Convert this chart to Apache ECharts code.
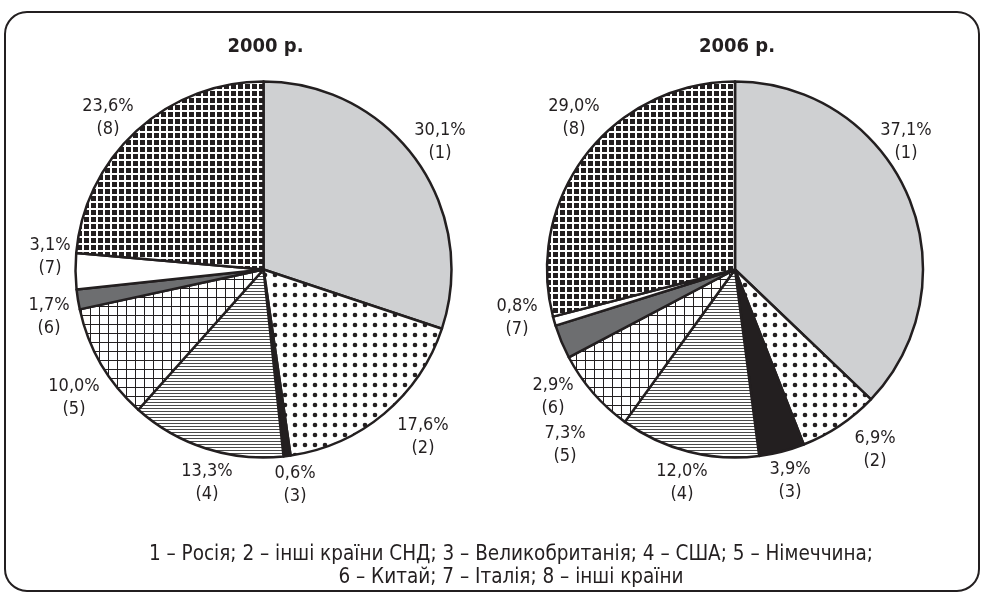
<!DOCTYPE html>
<html>
<head>
<meta charset="utf-8">
<script src="https://cdn.jsdelivr.net/npm/echarts@6/dist/echarts.min.js"></script>
<style>
  html, body { margin: 0; padding: 0; background: #fff; }
  #chart { width: 985px; height: 594px; }
</style>
</head>
<body>
<div id="chart"></div>
<script>
// Countries in slice order (clockwise from 12 o'clock)
const countries = ['Росія', 'інші країни СНД', 'Великобританія', 'США', 'Німеччина', 'Китай', 'Італія', 'інші країни'];
const years = ['2000 р.', '2006 р.'];
// Shares, %
const share2000 = [30.1, 17.6, 0.6, 13.3, 10.0, 1.7, 3.1, 23.6];
const share2006 = [37.1, 6.9, 3.9, 12.0, 7.3, 2.9, 0.8, 29.0];

// ---- layout ----
const INK = '#231f20';
const FONT = '"DejaVu Sans Condensed", "DejaVu Sans", sans-serif';
const PIE_R = 188;
const pieCenters = [[263.5, 269.5], [735, 269.5]];
// label block centre, as an offset [dx, dy] from its pie's centre
const labelOffsets = [
  [[176.5, -127.5], [159.5, 167], [31.5, 215.5], [-56.5, 213.5], [-189.5, 128.5], [-214.5, 47], [-213.5, -12.5], [-155.5, -151.5]],
  [[171, -127.5], [140, 180.5], [55, 211.5], [-53, 213.5], [-170, 175.5], [-182, 127.5], [-218, 48.5], [-161, -151.5]]
];

// ---- fill patterns ----
function tile(w, h, draw) {
  const c = document.createElement('canvas');
  c.width = w; c.height = h;
  const g = c.getContext('2d');
  g.fillStyle = '#fff';
  g.fillRect(0, 0, w, h);
  draw(g);
  return { image: c, repeat: 'repeat' };
}
const dots = tile(10, 10, g => { g.fillStyle = INK; g.beginPath(); g.arc(5, 5, 2.3, 0, Math.PI * 2); g.fill(); });
const hLines = tile(3, 3, g => { g.fillStyle = '#4a4a4a'; g.fillRect(0, 0, 3, 1); });
const grid = tile(9, 9, g => { g.fillStyle = INK; g.fillRect(0, 0, 9, 1); g.fillRect(0, 0, 1, 9); });
const squares = tile(7, 7, g => { g.fillStyle = INK; g.fillRect(0, 0, 5, 5); });
const fills = ['#cfd0d2', dots, INK, hLines, grid, '#6d6e70', '#ffffff', squares];

const fmt = v => v.toFixed(1).replace('.', ',') + '%';

function pieSeries(values, k) {
  const [cx, cy] = pieCenters[k];
  return {
    type: 'pie',
    center: [cx, cy],
    radius: PIE_R,
    startAngle: 90,
    clockwise: true,
    silent: true,
    avoidLabelOverlap: false,
    itemStyle: { borderColor: INK, borderWidth: 2.5 },
    label: {
      show: true,
      position: 'outside',
      formatter: p => fmt(p.value) + '\n(' + (p.dataIndex + 1) + ')',
      fontFamily: FONT,
      fontSize: 18,
      lineHeight: 23,
      color: INK
    },
    labelLine: { show: false },
    labelLayout: p => {
      const [dx, dy] = labelOffsets[k][p.dataIndex];
      return { x: cx + dx, y: cy + dy, align: 'center', verticalAlign: 'middle' };
    },
    emphasis: { disabled: true },
    data: values.map((v, i) => ({ name: countries[i], value: v, itemStyle: { color: fills[i] } }))
  };
}

// caption: numbered key, split into two lines
const keyItems = countries.map((c, i) => (i + 1) + ' – ' + c);
const keyLines = [keyItems.slice(0, 5).join('; ') + ';', keyItems.slice(5).join('; ')];

const chart = echarts.init(document.getElementById('chart'), null, { renderer: 'canvas' });
chart.setOption({
  animation: false,
  backgroundColor: '#fff',
  series: [pieSeries(share2000, 0), pieSeries(share2006, 1)],
  graphic: [
    { type: 'rect', shape: { x: 5, y: 12, width: 974, height: 579, r: 22 }, style: { fill: null, stroke: INK, lineWidth: 2 }, silent: true },
    ...years.map((y, k) => ({
      type: 'text', x: pieCenters[k][0] + 2, y: 47,
      style: { text: y, fill: INK, font: 'bold 20px ' + FONT, textAlign: 'center', textVerticalAlign: 'middle' }
    })),
    ...keyLines.map((t, i) => ({
      type: 'text', x: 511, y: 555 + i * 23,
      style: { text: t, fill: INK, font: '20.5px ' + FONT, textAlign: 'center', textVerticalAlign: 'middle' }
    }))
  ]
});
</script>
</body>
</html>
